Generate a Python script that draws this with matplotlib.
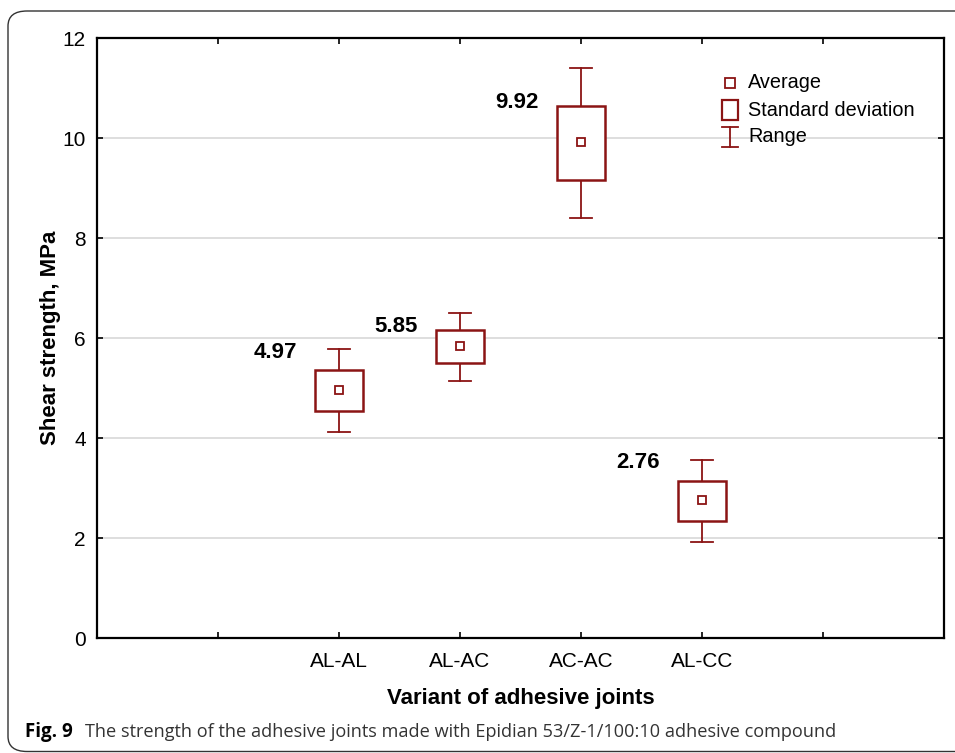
import numpy as np
import matplotlib.pyplot as plt
from matplotlib.patches import Rectangle, FancyBboxPatch
from matplotlib.lines import Line2D

# data
variants = ['AL-AL', 'AL-AC', 'AC-AC', 'AL-CC']
mean_vals = [4.97, 5.85, 9.92, 2.76]
sd_low = [4.54, 5.51, 9.16, 2.34]
sd_high = [5.36, 6.16, 10.64, 3.14]
rng_low = [4.13, 5.14, 8.40, 1.93]
rng_high = [5.78, 6.51, 11.40, 3.56]
label_dy = [0.75, 0.37, 0.78, 0.74]

red = '#8b1414'
plt.rcParams['font.family'] = ['Liberation Sans', 'DejaVu Sans']

fig = plt.figure(figsize=(9.55, 7.53), dpi=100)
ax = fig.add_axes([97/955, 1-638/753, 847/955, 600/753])

# outer rounded frame
frame = FancyBboxPatch((8/955, 0.002), 1.2, 1-11/753-0.002, transform=fig.transFigure,
                       boxstyle='round,pad=0,rounding_size=0.02', fc='none',
                       ec='#333333', lw=1.0, clip_on=False)
fig.patches.append(frame)

xpos = np.arange(len(variants)) + 2
box_w = 0.39
cap_w = 0.19

for x, m, lo, hi, rlo, rhi, dy in zip(xpos, mean_vals, sd_low, sd_high, rng_low, rng_high, label_dy):
    ax.plot([x, x], [hi, rhi], color=red, lw=1.3, zorder=3)
    ax.plot([x, x], [rlo, lo], color=red, lw=1.3, zorder=3)
    ax.plot([x - cap_w/2, x + cap_w/2], [rhi, rhi], color=red, lw=1.3, zorder=3)
    ax.plot([x - cap_w/2, x + cap_w/2], [rlo, rlo], color=red, lw=1.3, zorder=3)
    ax.add_patch(Rectangle((x - box_w/2, lo), box_w, hi - lo, fc='white', ec=red, lw=1.8, zorder=3))
    ax.plot(x, m, marker='s', ms=6, mfc='white', mec=red, mew=1.3, zorder=4)
    ax.text(x - 0.35, m + dy, f'{m:.2f}', ha='right', va='center',
            fontsize=16, fontweight='bold')

ax.set_xlim(0, 7)
ax.set_ylim(0, 12)
ax.set_yticks(range(0, 13, 2))
ax.set_xticks(range(1, 7))
ax.set_xticklabels(['' if t not in xpos else variants[t - 2] for t in range(1, 7)])
ax.tick_params(direction='in', length=4, width=1.2, top=True, right=True, labelsize=15)
ax.tick_params(axis='x', pad=10)
ax.tick_params(axis='y', pad=8)
ax.yaxis.grid(True, color='#d8d8d8', lw=1.2)
ax.set_axisbelow(True)
for s in ax.spines.values():
    s.set_linewidth(1.6)

ax.set_xlabel('Variant of adhesive joints', fontsize=16, fontweight='bold', labelpad=12)
ax.set_ylabel('Shear strength, MPa', fontsize=16, fontweight='bold', labelpad=1)

# legend drawn by hand
t = ax.transAxes
def ax_pt(px, py):
    return ((px - 97) / 847, (638 - py) / 600)

x0, y0 = ax_pt(730, 83)
ax.plot([x0], [y0], marker='s', ms=7, mfc='white', mec=red, mew=1.3, transform=t, clip_on=False)
xa, ya = ax_pt(722, 120)
xb, yb = ax_pt(738, 100)
ax.add_patch(Rectangle((xa, ya), xb - xa, yb - ya, transform=t, fc='white', ec=red, lw=1.6))
xc, yc1 = ax_pt(730, 127)
_, yc2 = ax_pt(730, 147)
dx = 8 / 847
ax.add_line(Line2D([xc, xc], [yc1, yc2], color=red, lw=1.3, transform=t))
ax.add_line(Line2D([xc - dx, xc + dx], [yc1, yc1], color=red, lw=1.3, transform=t))
ax.add_line(Line2D([xc - dx, xc + dx], [yc2, yc2], color=red, lw=1.3, transform=t))
for lab, py in zip(['Average', 'Standard deviation', 'Range'], [83, 110, 137]):
    xt, yt = ax_pt(748, py)
    ax.text(xt, yt, lab, transform=t, fontsize=14.3, va='center', ha='left')

# caption
fig.text(25/955, 1-732/753, 'Fig. 9', fontsize=13.5, fontweight='bold', va='center', ha='left',
         family=['Open Sans', 'DejaVu Sans'])
fig.text(85/955, 1-732/753,
         'The strength of the adhesive joints made with Epidian 53/Z-1/100:10 adhesive compound',
         fontsize=13.1, va='center', ha='left', color='#333333', family=['Open Sans', 'DejaVu Sans'])

fig.savefig('out.png', dpi=100)
